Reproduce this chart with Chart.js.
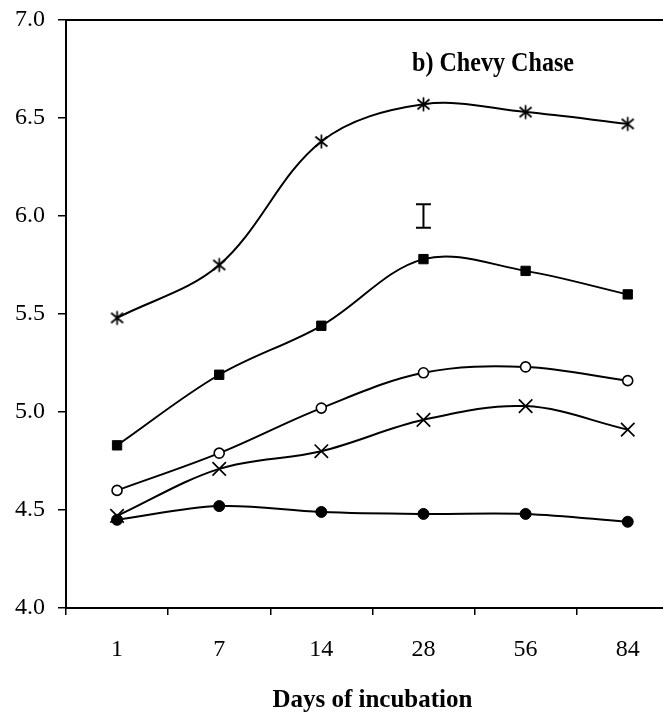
<!DOCTYPE html>
<html><head><meta charset="utf-8">
<script src="https://cdn.jsdelivr.net/npm/chart.js@4"></script>
<style>
html,body{margin:0;padding:0;background:#fff;overflow:hidden;}
#wrap{width:663px;height:712px;overflow:hidden;position:relative;background:#fff;}
#c{position:absolute;left:0;top:0;}
</style></head><body>
<div id="wrap"><canvas id="c" width="690" height="712"></canvas></div>
<script>
// ---- data ----
const days = ['1', '7', '14', '28', '56', '84'];
const seriesStar = [5.48, 5.75, 6.38, 6.57, 6.53, 6.47];
const seriesSquare = [4.83, 5.19, 5.44, 5.78, 5.72, 5.60];
const seriesOpenCircle = [4.60, 4.79, 5.02, 5.20, 5.23, 5.16];
const seriesCross = [4.47, 4.71, 4.80, 4.96, 5.03, 4.91];
const seriesFilledCircle = [4.45, 4.52, 4.49, 4.48, 4.48, 4.44];
const yTicks = [4.0, 4.5, 5.0, 5.5, 6.0, 6.5, 7.0];
const errorBarCategory = '28';
const errorBarLow = 5.94;
const errorBarHigh = 6.06;
const panelTitle = 'b) Chevy Chase';
const xTitle = 'Days of incubation';

// ---- styles ----
const FONT = '"Liberation Serif", "Times New Roman", serif';

function makeAsterisk() {
  const c = document.createElement('canvas');
  c.width = 17; c.height = 17;
  const g = c.getContext('2d');
  g.strokeStyle = '#000';
  g.lineWidth = 1.7;
  g.beginPath();
  g.moveTo(8.5, 1.5); g.lineTo(8.5, 15.5);
  g.moveTo(2.5, 3.5); g.lineTo(14.5, 13.5);
  g.moveTo(14.5, 3.5); g.lineTo(2.5, 13.5);
  g.stroke();
  return c;
}

const lineBase = {
  borderColor: '#000',
  borderWidth: 2,
  tension: 0.35,
  fill: false,
  pointBorderColor: '#000',
};

const overlay = {
  id: 'overlay',
  afterDatasetsDraw(chart) {
    const ctx = chart.ctx;
    const a = chart.chartArea;
    const xs = chart.scales.x, ys = chart.scales.y;
    ctx.save();
    // top frame line
    ctx.strokeStyle = '#000';
    ctx.lineWidth = 2;
    ctx.beginPath();
    ctx.moveTo(a.left - 1, a.top);
    ctx.lineTo(a.right + 2, a.top);
    ctx.stroke();
    // error bar
    const ex = xs.getPixelForValue(days.indexOf(errorBarCategory));
    const y1 = ys.getPixelForValue(errorBarHigh);
    const y2 = ys.getPixelForValue(errorBarLow);
    ctx.lineWidth = 2;
    ctx.beginPath();
    ctx.moveTo(ex, y1); ctx.lineTo(ex, y2);
    ctx.moveTo(ex - 7.5, y1); ctx.lineTo(ex + 7.5, y1);
    ctx.moveTo(ex - 7.5, y2); ctx.lineTo(ex + 7.5, y2);
    ctx.stroke();
    // panel title
    ctx.fillStyle = '#000';
    ctx.font = 'bold 27px ' + FONT;
    ctx.textBaseline = 'alphabetic';
    const w = ctx.measureText(panelTitle).width;
    const target = 162;
    ctx.translate(412, 71);
    ctx.scale(target / w, 1);
    ctx.fillText(panelTitle, 0, 0);
    ctx.restore();
  }
};

new Chart(document.getElementById('c'), {
  type: 'line',
  data: {
    labels: days,
    datasets: [
      Object.assign({}, lineBase, {
        label: 'A', data: seriesFilledCircle,
        pointStyle: 'circle', pointRadius: 5.5, pointBackgroundColor: '#000', pointBorderWidth: 1
      }),
      Object.assign({}, lineBase, {
        label: 'B', data: seriesCross,
        pointStyle: 'crossRot', pointRadius: 9.5, pointBorderWidth: 1.7, pointBackgroundColor: '#000'
      }),
      Object.assign({}, lineBase, {
        label: 'C', data: seriesOpenCircle,
        pointStyle: 'circle', pointRadius: 5, pointBackgroundColor: '#fff', pointBorderWidth: 1.6
      }),
      Object.assign({}, lineBase, {
        label: 'D', data: seriesSquare,
        pointStyle: 'rect', pointRadius: 6.6, pointBackgroundColor: '#000', pointBorderWidth: 1
      }),
      Object.assign({}, lineBase, {
        label: 'E', data: seriesStar,
        pointStyle: makeAsterisk(), pointRadius: 8
      })
    ]
  },
  options: {
    responsive: false,
    animation: false,
    devicePixelRatio: 1,
    layout: { padding: { top: 20, left: 0, right: 1, bottom: 0 } },
    plugins: { legend: { display: false }, tooltip: { enabled: false }, title: { display: false } },
    scales: {
      x: {
        type: 'category',
        offset: true,
        grid: { display: true, offset: true, drawOnChartArea: false, drawTicks: true, tickLength: 7, color: '#000', lineWidth: 1.5 },
        border: { display: true, color: '#000', width: 2 },
        ticks: { color: '#000', font: { family: FONT, size: 24 }, padding: 20, maxRotation: 0, autoSkip: false },
        title: { display: true, text: xTitle, color: '#000', font: { family: FONT, size: 25, weight: 'bold' }, padding: { top: 0, bottom: -4 } },
        afterFit(s) { s.height = 104; s.paddingLeft = 0; s.paddingRight = 0; }
      },
      y: {
        min: 4, max: 7,
        afterBuildTicks(s) { s.ticks = yTicks.map(v => ({ value: v })); },
        grid: { display: true, drawOnChartArea: false, drawTicks: true, tickLength: 8, color: '#000', lineWidth: 1.5 },
        border: { display: true, color: '#000', width: 2 },
        ticks: { color: '#000', font: { family: FONT, size: 24 }, padding: 13, callback: v => Number(v).toFixed(1) },
        afterFit(s) { s.width = 66; s.paddingTop = 0; s.paddingBottom = 0; }
      }
    }
  },
  plugins: [overlay]
});
</script>
</body></html>
